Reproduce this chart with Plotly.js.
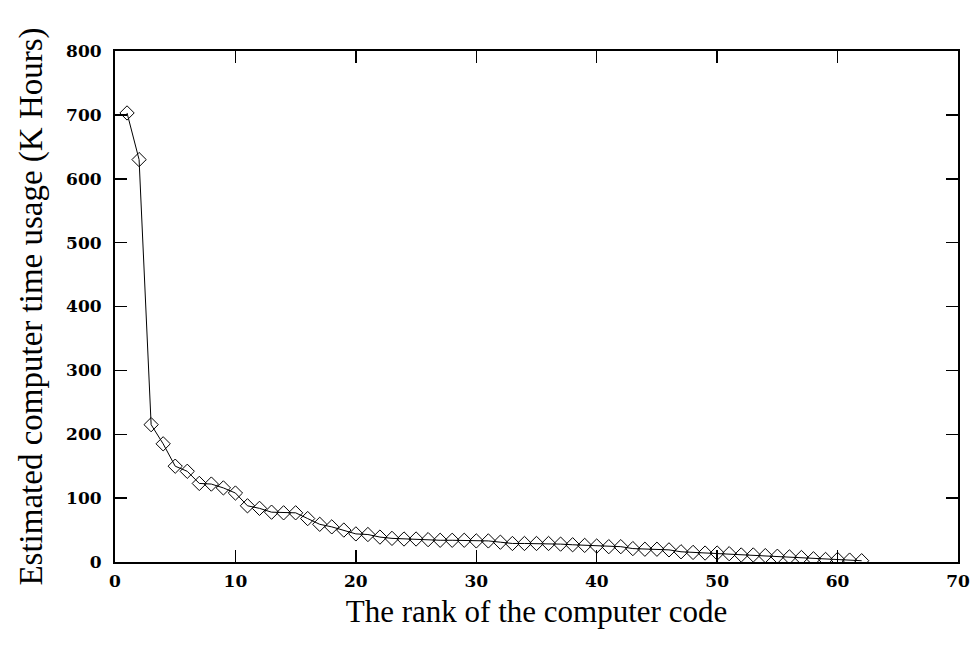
<!DOCTYPE html>
<html>
<head>
<meta charset="utf-8">
<script src="https://cdn.plot.ly/plotly-3.0.1.min.js"></script>
<style>html,body{margin:0;padding:0;background:#fff;}#chart{width:975px;height:647px;}</style>
</head>
<body>
<div id="chart"></div>
<script>
const rank = [1,2,3,4,5,6,7,8,9,10,11,12,13,14,15,16,17,18,19,20,21,22,23,24,25,26,27,28,29,30,31,32,33,34,35,36,37,38,39,40,41,42,43,44,45,46,47,48,49,50,51,52,53,54,55,56,57,58,59,60,61,62];
const hours = [703,630,215,185,150,142,123,122,116,108,88,84,78,77,77,68,59,55,50,44,43,39,37,36,36,35,34,34,34,33,33,31,29,29,29,29,28,27,26,25,24,24,21,20,20,19,16,15,14,14,13,11,11,10,9,8,7,5,4,4,3,2];
const xTicks = [0,10,20,30,40,50,60,70];
const yTicks = [0,100,200,300,400,500,600,700,800];

const tickFont = {family: '"DejaVu Serif", serif', size: 17, weight: 'bold', color: '#000'};

Plotly.newPlot('chart', [{
  x: rank, y: hours, type: 'scatter', mode: 'lines+markers',
  line: {color: '#000', width: 1},
  marker: {symbol: 'diamond-open', size: 11, color: '#000', line: {width: 1, color: '#000'}},
  showlegend: false
}], {
  width: 975, height: 647,
  margin: {l: 115, r: 17, t: 51, b: 85},
  paper_bgcolor: '#fff', plot_bgcolor: '#fff',
  font: {family: 'Liberation Serif', color: '#000'},
  xaxis: {
    range: [0, 70], tickvals: xTicks, ticktext: xTicks.map(String),
    ticks: 'inside', ticklen: 12, tickwidth: 1.5, tickcolor: '#000',
    showline: true, linecolor: '#000', linewidth: 2, mirror: 'ticks',
    showgrid: false, zeroline: false, tickfont: tickFont, ticklabelstandoff: 3,
    title: {text: 'The rank of the computer code', font: {family: 'Liberation Serif', size: 31, color: '#000'}, standoff: 10}
  },
  yaxis: {
    range: [0, 800], tickvals: yTicks, ticktext: yTicks.map(String),
    ticks: 'inside', ticklen: 12, tickwidth: 1.5, tickcolor: '#000',
    showline: true, linecolor: '#000', linewidth: 2, mirror: 'ticks',
    showgrid: false, zeroline: false, tickfont: tickFont, ticklabelstandoff: 8,
    title: {text: 'Estimated computer time usage (K Hours)', font: {family: 'Liberation Serif', size: 33, color: '#000'}, standoff: 14}
  }
}, {staticPlot: true});
</script>
</body>
</html>
